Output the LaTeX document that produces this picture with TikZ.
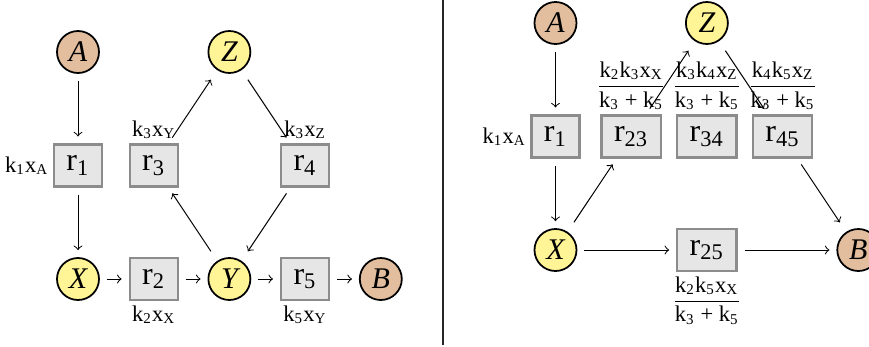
\documentclass[tikz,border=0pt]{standalone}
\usepackage{fontspec}
\setmainfont{Liberation Serif}
\definecolor{tanc}{HTML}{E2BE9E}
\definecolor{yelc}{HTML}{FFF496}
\definecolor{boxfill}{HTML}{E6E6E6}
\definecolor{boxline}{HTML}{8C8C8C}
\newcommand{\subx}[1]{\textsubscript{#1}}
\newcommand{\fracx}[2]{$\displaystyle\frac{\mbox{#1}}{\mbox{#2}}$}
\begin{document}
\begin{tikzpicture}[x=0.4pt,y=-0.4pt,
  sp/.style={draw=black, line width=0.7pt, rounded corners=8.4pt, minimum size=16.8pt, inner sep=0pt, font=\fontsize{12}{14}\selectfont\itshape},
  spa/.style={sp, fill=tanc},
  spy/.style={sp, fill=yelc},
  rx/.style={draw=boxline, fill=boxfill, line width=0.85pt, minimum height=16.8pt, minimum width=16.8pt, inner xsep=5pt, inner ysep=0pt, font=\fontsize{12.8}{14}\selectfont},
  lbl/.style={inner sep=1.6pt, font=\fontsize{9}{10}\selectfont},
  arr/.style={->, line width=0.4pt, shorten >=2.8pt, shorten <=2.8pt}]
\useasboundingbox (0,0) rectangle (869,347);
% left panel
\node[spa] (A) at (78,52) {A};
\node[spy] (Z) at (229.4,52) {Z};
\node[rx] (r1) at (78,165.5) {r\subx{1}};
\node[rx] (r3) at (153.7,165.5) {r\subx{3}};
\node[rx] (r4) at (305.1,165.5) {r\subx{4}};
\node[spy] (X) at (78,279) {X};
\node[rx] (r2) at (153.7,279) {r\subx{2}};
\node[spy] (Y) at (229.4,279) {Y};
\node[rx] (r5) at (305.1,279) {r\subx{5}};
\node[spa] (B) at (380.8,279) {B};
\node[lbl, anchor=east] (l1) at (r1.west) {k\subx{1}x\subx{A}};
\node[lbl, anchor=south] (l3) at (r3.north) {k\subx{3}x\subx{Y}};
\node[lbl, anchor=south] (l4) at (r4.north) {k\subx{3}x\subx{Z}};
\node[lbl, anchor=north] (l2) at (r2.south) {k\subx{2}x\subx{X}};
\node[lbl, anchor=north] (l5) at (r5.south) {k\subx{5}x\subx{Y}};
\draw[arr] (A) -- (r1);
\draw[arr] (r1) -- (X);
\draw[arr] (X) -- (r2);
\draw[arr] (r2) -- (Y);
\draw[arr] (Y) -- (r5);
\draw[arr] (r5) -- (B);
\draw[arr] (Y) -- (r3);
\draw[arr] (r3) -- (Z);
\draw[arr] (Z) -- (r4);
\draw[arr] (r4) -- (Y);
% divider
\coordinate (d1) at (443,0);
\coordinate (d2) at (443,345);
\draw[line width=0.45pt, black!85] (d1) -- (d2);
% right panel
\node[spa] (RA) at (555.5,23) {A};
\node[spy] (RZ) at (706.9,23) {Z};
\node[rx] (Rr1) at (555.5,136.5) {r\subx{1}};
\node[rx] (Rr23) at (631.2,136.5) {r\subx{23}};
\node[rx] (Rr34) at (706.9,136.5) {r\subx{34}};
\node[rx] (Rr45) at (782.6,136.5) {r\subx{45}};
\node[spy] (RX) at (555.5,250) {X};
\node[rx] (Rr25) at (706.9,250) {r\subx{25}};
\node[spa] (RB) at (858.3,250) {B};
\node[lbl, anchor=east] (Rl1) at (Rr1.west) {k\subx{1}x\subx{A}};
\node[lbl, anchor=south] (Rl23) at (Rr23.north) {\fracx{k\subx{2}k\subx{3}x\subx{X}}{k\subx{3} + k\subx{5}}};
\node[lbl, anchor=south] (Rl34) at (Rr34.north) {\fracx{k\subx{3}k\subx{4}x\subx{Z}}{k\subx{3} + k\subx{5}}};
\node[lbl, anchor=south] (Rl45) at (Rr45.north) {\fracx{k\subx{4}k\subx{5}x\subx{Z}}{k\subx{3} + k\subx{5}}};
\node[lbl, anchor=north] (Rl25) at (Rr25.south) {\fracx{k\subx{2}k\subx{5}x\subx{X}}{k\subx{3} + k\subx{5}}};
\draw[arr] (RA) -- (Rr1);
\draw[arr] (Rr1) -- (RX);
\draw[arr] (RX) -- (Rr23);
\draw[arr] (Rr23) -- (RZ);
\draw[arr] (RZ) -- (Rr45);
\draw[arr] (Rr45) -- (RB);
\draw[arr] (RX) -- (Rr25);
\draw[arr] (Rr25) -- (RB);
\end{tikzpicture}
\end{document}
